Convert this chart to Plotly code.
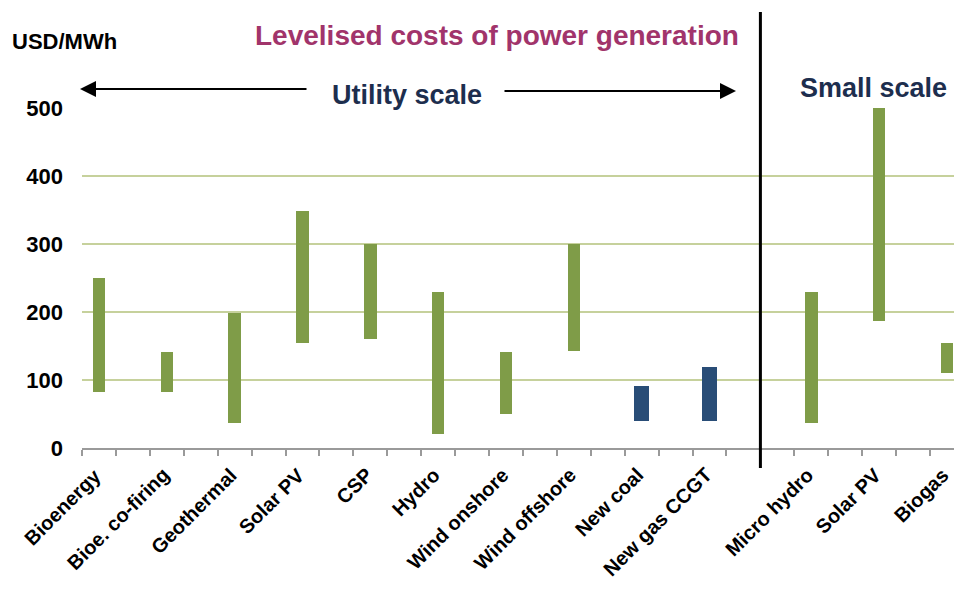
import plotly.graph_objects as go

# ---- data ----
categories = ["Bioenergy", "Bioe. co-firing", "Geothermal", "Solar PV", "CSP", "Hydro",
              "Wind onshore", "Wind offshore", "New coal", "New gas CCGT",
              "Micro hydro", "Solar PV", "Biogas"]
slot_index = [0, 2, 4, 6, 8, 10, 12, 14, 16, 18, 21, 23, 25]
low_values = [82, 82, 37, 154, 161, 21, 50, 142, 40, 40, 37, 187, 110]
high_values = [250, 141, 199, 348, 300, 230, 141, 300, 91, 119, 230, 500, 154]
is_fossil = [False] * 8 + [True, True] + [False] * 3
y_ticks = [0, 100, 200, 300, 400, 500]

GREEN = "#7f9c48"
BLUE = "#294d77"
TITLE_C = "#a1346b"
NAVY = "#1d2e4e"
FONT = "Liberation Sans, Arial, sans-serif"

W, H = 954, 591
ML, MR, MT, MB = 82, 0, 108, 143
PW, PH = W - ML - MR, H - MT - MB
X0 = -0.5
XR = X0 + PW / 33.92


def px(xp):
    return (xp - ML) / PW


def py(yp):
    return (H - MB - yp) / PH


fig = go.Figure()
for fossil, color, width in [(False, GREEN, 0.37), (True, BLUE, 0.44)]:
    xs = [s for s, f in zip(slot_index, is_fossil) if f == fossil]
    lo = [l for l, f in zip(low_values, is_fossil) if f == fossil]
    hi = [h for h, f in zip(high_values, is_fossil) if f == fossil]
    fig.add_trace(go.Bar(x=xs, y=[h - l for h, l in zip(hi, lo)], base=lo,
                         width=width, marker=dict(color=color, line=dict(width=0)),
                         showlegend=False, hoverinfo="skip"))

fig.update_layout(
    width=W, height=H,
    margin=dict(l=ML, r=MR, t=MT, b=MB, pad=0),
    plot_bgcolor="white", paper_bgcolor="white",
    font=dict(family=FONT, color="black"),
    bargap=0,
    xaxis=dict(range=[X0, XR], tickvals=[i - 0.5 for i in range(27)],
               showticklabels=False, ticks="outside", ticklen=6, tickwidth=2,
               tickcolor="#9a9a9a", showgrid=False, zeroline=False,
               showline=True, linecolor="#9a9a9a", linewidth=2, fixedrange=True),
    yaxis=dict(range=[0, 500], tickvals=y_ticks, showgrid=True,
               gridcolor="#c6d19c", gridwidth=1.5, zeroline=False, showline=False,
               ticks="", ticklabelstandoff=18, fixedrange=True,
               tickfont=dict(size=22, family=FONT, color="black", weight="bold")),
)

# vertical divider between utility and small scale
fig.add_shape(type="line", xref="x", yref="paper", x0=19.5, x1=19.5,
              y0=py(468), y1=py(12), line=dict(color="black", width=3))

ann = []
# category labels, rotated
for cat, s in zip(categories, slot_index):
    ann.append(dict(text=cat, xref="x", yref="paper", x=s, xshift=9, y=py(461),
                    xanchor="right", yanchor="top", textangle=-45, showarrow=False,
                    font=dict(size=20, color="black", family=FONT, weight="bold")))
ann.append(dict(text="USD/MWh", xref="paper", yref="paper", x=px(10), y=py(41),
                xanchor="left", yanchor="middle", showarrow=False,
                font=dict(size=22, color="black", family=FONT, weight="bold")))
ann.append(dict(text="Levelised costs of power generation", xref="paper", yref="paper",
                x=px(497), y=py(35), xanchor="center", yanchor="middle", showarrow=False,
                font=dict(size=28, color=TITLE_C, family=FONT, weight="bold")))
ann.append(dict(text="Utility scale", xref="paper", yref="paper",
                x=px(407), y=py(95), xanchor="center", yanchor="middle", showarrow=False,
                font=dict(size=27, color=NAVY, family=FONT, weight="bold")))
ann.append(dict(text="Small scale", xref="paper", yref="paper",
                x=px(873), y=py(88), xanchor="center", yanchor="middle", showarrow=False,
                font=dict(size=27, color=NAVY, family=FONT, weight="bold")))
# arrows
ann.append(dict(text="", xref="paper", yref="paper", x=px(80), y=py(89),
                ax=308 - 80, ay=0, showarrow=True, arrowhead=2, arrowsize=1.6,
                arrowwidth=2, arrowcolor="black"))
ann.append(dict(text="", xref="paper", yref="paper", x=px(736), y=py(91),
                ax=503 - 736, ay=0, showarrow=True, arrowhead=2, arrowsize=1.6,
                arrowwidth=2, arrowcolor="black"))
fig.update_layout(annotations=ann)

fig.write_html("out.html", config={"displayModeBar": False},
               post_script="document.body.style.margin='0';document.body.style.overflow='hidden';")
